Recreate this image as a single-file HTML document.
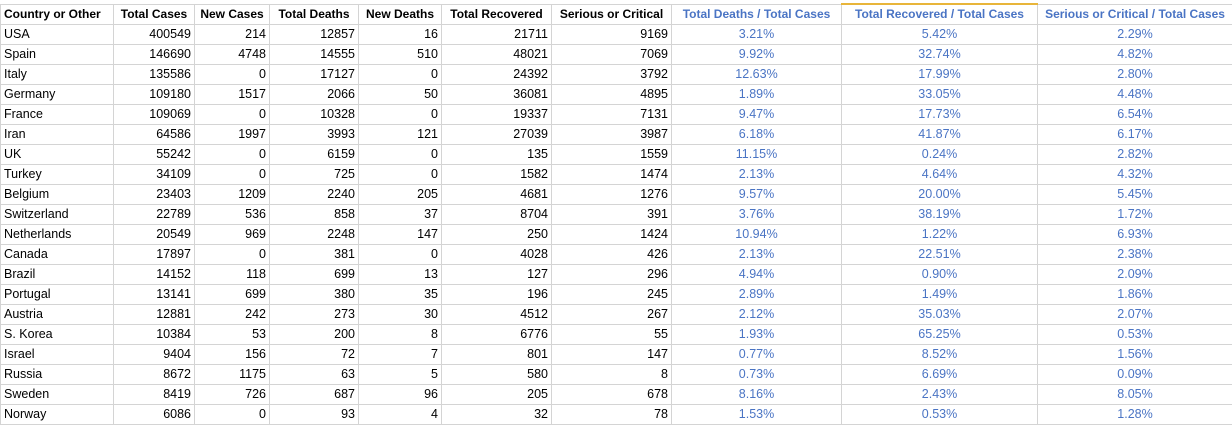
<!DOCTYPE html>
<html><head><meta charset="utf-8"><style>
html,body{margin:0;padding:0;background:#fff;width:1232px;height:424px;overflow:hidden}
table{position:absolute;left:0;top:3px;border-collapse:collapse;table-layout:fixed;width:1232px;font-family:"Liberation Sans",Arial,sans-serif;font-size:12.5px;color:#000}
td,th{height:19px;padding:0 3px;border:1px solid #d4d4d4;white-space:nowrap;overflow:hidden;line-height:19px}
th{font-weight:bold;text-align:center;font-size:12px}
th.l{text-align:left}
td.n{text-align:right}
td.p{text-align:center;color:#4a74c4}
th.b{color:#4a74c4}
th.sel{border-top:2px solid #e8b53a}
</style></head><body>
<table>
<colgroup><col style="width:113px"><col style="width:81px"><col style="width:75px"><col style="width:89px"><col style="width:83px"><col style="width:110px"><col style="width:120px"><col style="width:170px"><col style="width:196px"><col style="width:195px"></colgroup>
<thead><tr>
<th class="l">Country or Other</th>
<th>Total Cases</th>
<th>New Cases</th>
<th>Total Deaths</th>
<th>New Deaths</th>
<th>Total Recovered</th>
<th>Serious or Critical</th>
<th class="b">Total Deaths / Total Cases</th>
<th class="b sel">Total Recovered / Total Cases</th>
<th class="b">Serious or Critical / Total Cases</th>
</tr></thead>
<tbody id="tb"></tbody>
</table>
<script>
const countries=["USA","Spain","Italy","Germany","France","Iran","UK","Turkey","Belgium","Switzerland","Netherlands","Canada","Brazil","Portugal","Austria","S. Korea","Israel","Russia","Sweden","Norway"];
const totalCases=[400549,146690,135586,109180,109069,64586,55242,34109,23403,22789,20549,17897,14152,13141,12881,10384,9404,8672,8419,6086];
const newCases=[214,4748,0,1517,0,1997,0,0,1209,536,969,0,118,699,242,53,156,1175,726,0];
const totalDeaths=[12857,14555,17127,2066,10328,3993,6159,725,2240,858,2248,381,699,380,273,200,72,63,687,93];
const newDeaths=[16,510,0,50,0,121,0,0,205,37,147,0,13,35,30,8,7,5,96,4];
const totalRecovered=[21711,48021,24392,36081,19337,27039,135,1582,4681,8704,250,4028,127,196,4512,6776,801,580,205,32];
const serious=[9169,7069,3792,4895,7131,3987,1559,1474,1276,391,1424,426,296,245,267,55,147,8,678,78];
const deathPct=["3.21%","9.92%","12.63%","1.89%","9.47%","6.18%","11.15%","2.13%","9.57%","3.76%","10.94%","2.13%","4.94%","2.89%","2.12%","1.93%","0.77%","0.73%","8.16%","1.53%"];
const recPct=["5.42%","32.74%","17.99%","33.05%","17.73%","41.87%","0.24%","4.64%","20.00%","38.19%","1.22%","22.51%","0.90%","1.49%","35.03%","65.25%","8.52%","6.69%","2.43%","0.53%"];
const critPct=["2.29%","4.82%","2.80%","4.48%","6.54%","6.17%","2.82%","4.32%","5.45%","1.72%","6.93%","2.38%","2.09%","1.86%","2.07%","0.53%","1.56%","0.09%","8.05%","1.28%"];
const tb=document.getElementById('tb');
countries.forEach((c,i)=>{
  const tr=document.createElement('tr');
  
  
  const vals=[[c,''],[totalCases[i],'n'],[newCases[i],'n'],[totalDeaths[i],'n'],[newDeaths[i],'n'],[totalRecovered[i],'n'],[serious[i],'n'],[deathPct[i],'p'],[recPct[i],'p'],[critPct[i],'p']];
  vals.forEach((v,j)=>{
    const td=document.createElement('td');
    td.textContent=v[0];
    if(v[1])td.className=v[1];
    
    
    tr.appendChild(td);
  });
  tb.appendChild(tr);
});
</script>
</body></html>
